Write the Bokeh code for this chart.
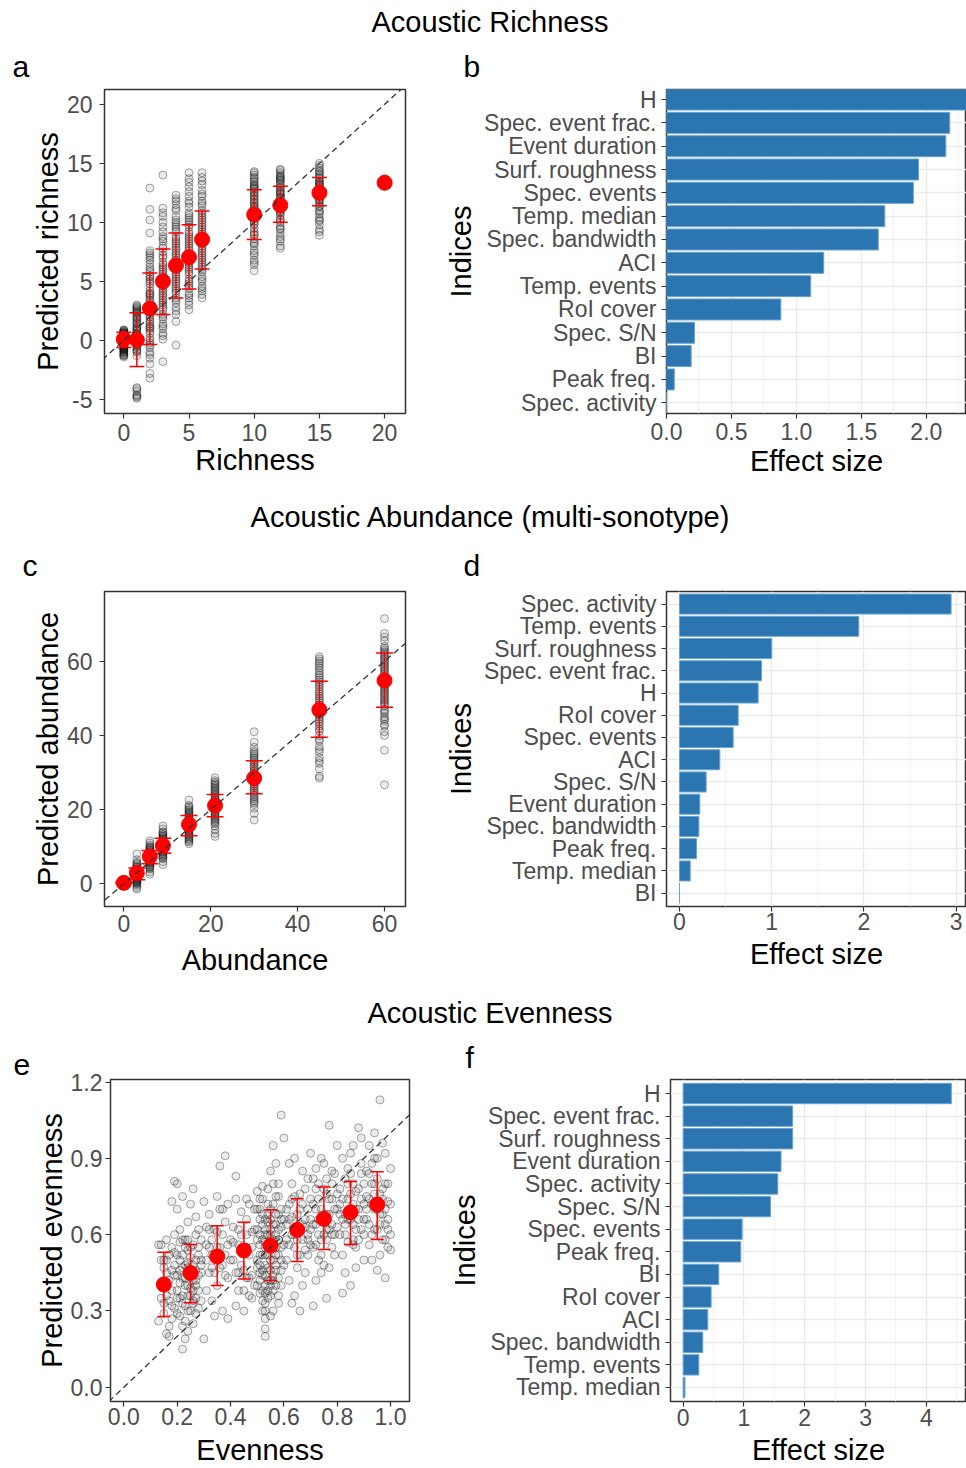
from bokeh.plotting import figure
from bokeh.models import Range1d, FixedTicker, PrintfTickFormatter, Slope, Div
from bokeh.layouts import column, row
from bokeh.embed import file_html
from bokeh.resources import INLINE

FONT = "Liberation Sans"
TICK_FS = "23px"
LAB_FS = "29px"

# ---------------- Panel a : richness ----------------
rich_levels = [0, 1, 2, 3, 4, 5, 6, 10, 12, 15, 20]
rich_points = [
    [0.9, 0.8, 0.7, 0.6, 0.5, 0.45, 0.3, 0.2, 0.1, 0.0, -0.1, -0.2, -0.3, -0.4, -0.5, -0.6, -0.7, -0.8, -0.9, -1.0, -1.1, -1.2, -1.3, -1.4, 0.75, 0.35, -0.15, -0.55, 0.65, 0.05,
     0.85, 0.55, 0.25, -0.05, -0.35, -0.65, -0.95, -1.25, 0.15, -0.45, 0.6, -0.75],
    [3.0, 2.9, 2.7, 2.5, 2.3, 2.0, 1.8, 1.5, 1.2, 1.0, 0.8, 0.5, 0.3, 0.1, -0.1, -0.3, -0.5, -0.8, -1.0, -1.3, -4.0, -4.1, -4.6, -4.8, -4.9, 2.2, 1.6, 0.6, -0.2,
     2.8, 2.4, 1.9, 1.4, 0.9, 0.4, 0.0, -0.4, -0.9, 1.1, 2.6, -0.6, -4.3, -4.7],
    [12.9, 11.1, 10.2, 9.1, 7.6, 7.4, 7.0, 6.5, 6.0, 5.5, 5.0, 4.5, 4.2, 3.8, 3.4, 3.0, 2.6, 2.2, 1.8, 1.4, 1.0, 0.6, 0.2, -0.2, -0.6, -1.0, -1.5, -2.0, -2.8, -3.2, 6.8, 5.2, 3.6, 2.4, 1.2,
     7.2, 6.2, 5.8, 4.8, 4.0, 3.2, 2.0, 1.6, 0.8, 0.0, -0.4, -1.2, 5.4, 3.9, 2.8, 1.1],
    [14.0, 11.2, 10.8, 10.0, 9.2, 8.4, 8.0, 7.5, 7.0, 6.6, 6.2, 5.8, 5.4, 5.0, 4.6, 4.2, 3.8, 3.4, 3.0, 2.6, 2.2, 1.8, 1.4, 1.0, 0.6, 0.1, -1.8, 7.8, 5.6, 4.4, 3.2,
     10.5, 9.6, 8.8, 7.2, 6.4, 5.2, 4.0, 3.6, 2.8, 2.0, 1.2, 0.4, 6.0, 4.8, 8.6],
    [12.3, 12.0, 11.5, 11.0, 10.5, 10.0, 9.6, 9.2, 8.8, 8.4, 8.0, 7.6, 7.2, 6.8, 6.4, 6.0, 5.6, 5.2, 4.8, 4.4, 4.0, 3.6, 3.2, 2.8, 2.2, 1.6, -0.4, 9.8, 7.4, 5.4,
     11.8, 11.2, 10.2, 9.4, 8.6, 7.8, 7.0, 6.2, 5.8, 5.0, 4.2, 3.4, 2.5, 8.2, 6.6, 4.6],
    [14.2, 13.7, 13.0, 12.2, 11.8, 11.3, 10.8, 10.4, 10.0, 9.6, 9.2, 8.8, 8.4, 8.0, 7.6, 7.2, 6.8, 6.4, 6.0, 5.6, 5.2, 4.8, 4.4, 4.0, 3.6, 3.0, 2.6, 9.0, 7.0, 5.0,
     13.4, 12.6, 11.6, 10.6, 9.8, 8.6, 7.8, 6.6, 5.8, 4.6, 3.8, 3.3, 8.2, 6.2, 10.2],
    [14.2, 13.8, 13.2, 12.7, 12.2, 11.8, 11.4, 11.0, 10.6, 10.2, 9.8, 9.4, 9.0, 8.6, 8.2, 7.8, 7.4, 7.0, 6.6, 6.2, 5.8, 5.4, 5.0, 4.6, 4.2, 3.6, 10.4, 8.0, 6.4,
     13.5, 12.4, 11.6, 10.8, 10.0, 9.2, 8.4, 7.6, 6.8, 6.0, 5.2, 4.4, 3.9, 9.6, 7.2],
    [14.3, 14.0, 13.7, 13.4, 13.1, 12.8, 12.5, 12.2, 11.9, 11.6, 11.3, 11.0, 10.7, 10.4, 10.1, 9.8, 9.5, 9.2, 8.9, 8.6, 8.3, 8.0, 7.6, 7.2, 6.8, 6.4, 5.9, 13.2, 12.0, 10.9,
     14.2, 13.8, 13.5, 12.9, 12.6, 12.3, 11.7, 11.4, 10.5, 9.9, 9.0, 8.2, 7.4, 6.6, 13.0, 11.2],
    [14.5, 14.2, 13.9, 13.6, 13.3, 13.0, 12.7, 12.4, 12.1, 11.8, 11.5, 11.2, 10.9, 10.6, 10.3, 10.0, 9.7, 9.4, 9.1, 8.8, 8.4, 8.0, 7.8, 13.5, 12.6, 11.0,
     14.4, 14.0, 13.7, 13.2, 12.9, 12.5, 12.2, 11.7, 11.3, 10.8, 10.2, 9.5, 8.6, 13.8, 12.0],
    [15.0, 14.6, 14.3, 14.0, 13.7, 13.4, 13.1, 12.8, 12.5, 12.2, 11.9, 11.6, 11.3, 11.0, 10.7, 10.4, 10.1, 9.8, 9.4, 8.9, 13.2, 12.0,
     14.8, 14.4, 14.1, 13.8, 13.5, 13.0, 12.6, 12.3, 11.8, 11.4, 10.9, 10.2, 9.2, 13.3, 12.4],
    [13.7, 13.6, 13.5, 13.4, 13.3, 13.2, 13.1, 13.5, 13.4, 13.3, 13.45, 13.35, 13.25, 13.55],
]
rich_mean = [0.1, 0.05, 2.7, 5.0, 6.35, 7.05, 8.55, 10.65, 11.45, 12.5, 13.35]
rich_lo = [-0.6, -2.2, -0.35, 2.2, 3.6, 4.35, 6.05, 8.55, 10.0, 11.4, 13.2]
rich_hi = [0.7, 2.35, 5.7, 7.75, 9.1, 9.8, 10.95, 12.75, 13.05, 13.8, 13.5]
rich_xticks = [0, 5, 10, 15, 20]
rich_yticks = [-5, 0, 5, 10, 15, 20]

# ---------------- Panel c : abundance ----------------
abund_levels = [0, 3, 6, 9, 15, 21, 30, 45, 60]
abund_points = [
    [0.0, 0.2, 0.4, 0.6, 0.3, 0.1, 0.5],
    [8.1, 6.5, 5.8, 5.2, 4.7, 4.2, 3.8, 3.4, 3.0, 2.6, 2.2, 1.8, 1.4, 1.0, 0.6, 0.2, -0.4, -1.0, -1.4,
     5.5, 4.5, 3.6, 3.2, 2.8, 2.4, 2.0, 1.6, 1.2, 0.8, 0.4, 0.0],
    [11.6, 11.0, 10.4, 9.8, 9.2, 8.7, 8.2, 7.7, 7.2, 6.7, 6.2, 5.7, 5.2, 4.6, 4.0, 3.2, 2.6,
     10.0, 9.5, 9.0, 8.4, 8.0, 7.5, 7.0, 6.5, 6.0, 5.5, 4.8, 4.3],
    [15.6, 14.8, 14.0, 13.4, 12.8, 12.2, 11.6, 11.0, 10.4, 9.8, 9.2, 8.6, 8.0, 7.4, 6.8, 6.0, 5.2,
     13.8, 13.1, 12.5, 11.9, 11.3, 10.7, 10.1, 9.5, 8.9, 8.3, 7.7, 7.1],
    [22.6, 21.2, 20.4, 19.7, 19.0, 18.3, 17.6, 16.9, 16.2, 15.5, 14.8, 14.1, 13.4, 12.7, 12.0, 11.3, 10.8,
     20.8, 20.0, 19.3, 18.6, 17.9, 17.2, 16.5, 15.8, 15.1, 14.4, 13.7, 13.0, 12.3, 11.6],
    [28.6, 27.8, 27.0, 26.2, 25.4, 24.6, 23.8, 23.0, 22.2, 21.4, 20.6, 19.8, 19.0, 18.2, 17.4, 16.6, 15.6, 14.6, 13.6, 12.8,
     27.4, 26.6, 25.8, 25.0, 24.2, 23.4, 22.6, 21.8, 21.0, 20.2, 19.4, 18.6, 17.8, 17.0, 16.2],
    [41.0, 38.2, 36.8, 35.4, 34.4, 33.4, 32.4, 31.4, 30.4, 29.4, 28.4, 27.4, 26.4, 25.4, 24.4, 23.4, 22.4, 21.4, 20.4, 19.0, 17.2,
     35.9, 34.9, 33.9, 32.9, 31.9, 30.9, 29.9, 28.9, 27.9, 26.9, 25.9, 24.9, 23.9, 22.9, 21.9],
    [61.2, 60.0, 58.8, 57.5, 56.2, 55.0, 53.8, 52.5, 51.2, 50.0, 48.8, 47.5, 46.2, 45.0, 43.8, 42.5, 41.2, 40.0, 38.5, 37.0, 35.5, 34.0, 32.5, 31.0, 29.0, 28.5,
     60.6, 59.4, 58.2, 56.8, 55.6, 54.4, 53.2, 51.8, 50.6, 49.4, 48.2, 46.8, 45.6, 44.4, 43.2, 41.8, 39.0, 36.2, 33.2],
    [71.5, 67.5, 66.5, 65.5, 64.0, 63.0, 62.0, 61.0, 60.0, 59.0, 58.0, 57.0, 56.0, 55.0, 54.0, 53.0, 52.0, 51.0, 50.0, 49.0, 48.0, 47.0, 46.0, 45.0, 44.0, 43.0, 41.0, 40.0, 36.0, 26.7,
     63.5, 62.5, 61.5, 60.5, 59.5, 58.5, 57.5, 56.5, 55.5, 54.5, 53.5, 52.5, 51.5, 50.5, 49.5, 48.5, 46.5, 44.5, 42.5],
]
abund_mean = [0.27, 2.96, 7.36, 10.3, 16.0, 21.1, 28.5, 46.9, 54.8]
abund_lo = [0.1, 1.1, 5.4, 8.25, 13.0, 18.1, 24.3, 39.5, 47.6]
abund_hi = [0.45, 4.3, 9.0, 12.3, 18.4, 24.1, 33.2, 54.6, 62.2]
abund_ticks = [0, 20, 40, 60]

# ---------------- Panel e : evenness ----------------
even_x = [
    0.14, 0.15, 0.13, 0.16, 0.17, 0.14, 0.18, 0.15, 0.16, 0.17, 0.19, 0.18, 0.14, 0.19, 0.16, 0.17, 0.15, 0.18, 0.19, 0.20, 0.19, 0.20, 0.18, 0.13, 0.16, 0.17, 0.20, 0.14,
    0.21, 0.22, 0.23, 0.22, 0.24, 0.25, 0.26, 0.21, 0.23, 0.27, 0.28, 0.24, 0.25, 0.26, 0.22, 0.23, 0.24, 0.29, 0.30, 0.28, 0.27, 0.21, 0.26, 0.25, 0.29, 0.28, 0.30, 0.24, 0.22, 0.27, 0.23, 0.26,
    0.31, 0.32, 0.33, 0.34, 0.35, 0.36, 0.37, 0.38, 0.39, 0.31, 0.32, 0.33, 0.34, 0.35, 0.36, 0.38, 0.37, 0.39, 0.40, 0.35, 0.33, 0.36, 0.38, 0.34, 0.32, 0.39,
    0.41, 0.42, 0.43, 0.44, 0.45, 0.46, 0.47, 0.48, 0.49, 0.41, 0.42, 0.43, 0.44, 0.45, 0.46, 0.47, 0.48, 0.49, 0.50, 0.44, 0.46, 0.48, 0.50, 0.42, 0.47,
    0.51, 0.51, 0.52, 0.52, 0.52, 0.53, 0.53, 0.53, 0.53, 0.53, 0.53, 0.54, 0.54, 0.54, 0.55, 0.55, 0.55, 0.55, 0.56, 0.56, 0.56, 0.57, 0.57, 0.57, 0.58, 0.58, 0.58, 0.59, 0.59, 0.59, 0.60, 0.60, 0.51, 0.52, 0.54, 0.56, 0.57, 0.58, 0.55, 0.53, 0.59, 0.51,
    0.61, 0.61, 0.62, 0.62, 0.63, 0.63, 0.64, 0.64, 0.65, 0.65, 0.66, 0.66, 0.67, 0.67, 0.68, 0.68, 0.69, 0.69, 0.70, 0.70, 0.62, 0.64, 0.66, 0.68, 0.63, 0.61, 0.67, 0.69,
    0.71, 0.71, 0.72, 0.72, 0.73, 0.73, 0.74, 0.74, 0.75, 0.75, 0.76, 0.76, 0.77, 0.77, 0.78, 0.78, 0.79, 0.79, 0.80, 0.80, 0.71, 0.72, 0.74, 0.76, 0.78, 0.73, 0.75, 0.77,
    0.81, 0.81, 0.82, 0.82, 0.83, 0.83, 0.84, 0.84, 0.85, 0.85, 0.86, 0.86, 0.87, 0.87, 0.88, 0.88, 0.89, 0.89, 0.90, 0.90, 0.82, 0.84, 0.86, 0.88, 0.85, 0.83, 0.87, 0.89,
    0.91, 0.91, 0.92, 0.92, 0.93, 0.93, 0.94, 0.94, 0.95, 0.95, 0.96, 0.96, 0.97, 0.97, 0.98, 0.98, 0.99, 0.99, 1.00, 1.00, 0.92, 0.94, 0.96, 0.98, 0.95, 0.97, 0.93, 0.99,
    0.15, 0.16, 0.17, 0.18, 0.19, 0.20, 0.21, 0.21, 0.22, 0.22, 0.23, 0.23, 0.24, 0.24, 0.25, 0.25, 0.26, 0.26, 0.27, 0.27, 0.28, 0.29, 0.29, 0.20, 0.18, 0.16, 0.24, 0.26, 0.22, 0.27,
    0.31, 0.32, 0.33, 0.34, 0.35, 0.36, 0.37, 0.38, 0.39, 0.40, 0.41, 0.42, 0.43, 0.44, 0.45, 0.46, 0.47, 0.48, 0.49, 0.50, 0.37, 0.43, 0.46, 0.31,
    0.50, 0.50, 0.51, 0.51, 0.51, 0.52, 0.52, 0.52, 0.53, 0.53, 0.53, 0.53, 0.54, 0.54, 0.54, 0.55, 0.55, 0.55, 0.56, 0.56, 0.56, 0.57, 0.57, 0.57, 0.58, 0.58, 0.58, 0.59, 0.59, 0.60, 0.60, 0.52, 0.54, 0.56, 0.53, 0.55,
    0.61, 0.62, 0.63, 0.64, 0.65, 0.66, 0.67, 0.68, 0.69, 0.70, 0.71, 0.72, 0.73, 0.74, 0.75, 0.76, 0.77, 0.78, 0.79, 0.80,
    0.81, 0.82, 0.83, 0.84, 0.85, 0.86, 0.87, 0.88, 0.89, 0.90, 0.91, 0.92, 0.93, 0.94, 0.95, 0.96, 0.97, 0.98, 0.99, 1.00,
    0.19, 0.20, 0.21, 0.22, 0.23, 0.24, 0.25, 0.26, 0.27, 0.28, 0.21, 0.23, 0.25, 0.27, 0.29, 0.20, 0.22, 0.24, 0.26, 0.28,
    0.50, 0.51, 0.52, 0.53, 0.54, 0.55, 0.56, 0.57, 0.58, 0.59, 0.50, 0.51, 0.52, 0.53, 0.54, 0.55, 0.56, 0.57, 0.58, 0.59, 0.51, 0.53, 0.55, 0.57, 0.52, 0.54, 0.56, 0.58,
    0.62, 0.64, 0.66, 0.68, 0.70, 0.72, 0.74, 0.76, 0.78, 0.80, 0.63, 0.65, 0.67, 0.69, 0.71, 0.73, 0.75, 0.77, 0.79, 0.70, 0.72, 0.74, 0.76, 0.78,
    0.81, 0.83, 0.85, 0.87, 0.89, 0.91, 0.93, 0.95, 0.97, 0.99, 0.82, 0.84, 0.86, 0.88, 0.90, 0.92, 0.94, 0.96, 0.98, 1.00, 0.86, 0.90, 0.94, 0.98,
]
even_y = [
    0.56, 0.33, 0.26, 0.45, 0.52, 0.41, 0.38, 0.29, 0.21, 0.20, 0.48, 0.55, 0.50, 0.31, 0.36, 0.42, 0.47, 0.27, 0.60, 0.80, 0.81, 0.70, 0.73, 0.56, 0.58, 0.24, 0.44, 0.35,
    0.62, 0.15, 0.40, 0.52, 0.36, 0.30, 0.48, 0.28, 0.58, 0.42, 0.55, 0.65, 0.72, 0.78, 0.75, 0.19, 0.22, 0.34, 0.19, 0.62, 0.29, 0.46, 0.38, 0.55, 0.50, 0.44, 0.73, 0.47, 0.33, 0.60, 0.26, 0.34,
    0.50, 0.45, 0.58, 0.62, 0.40, 0.55, 0.48, 0.65, 0.43, 0.38, 0.68, 0.34, 0.52, 0.75, 0.87, 0.91, 0.30, 0.27, 0.58, 0.61, 0.47, 0.70, 0.52, 0.28, 0.55, 0.72,
    0.50, 0.83, 0.45, 0.60, 0.38, 0.66, 0.52, 0.44, 0.70, 0.63, 0.32, 0.56, 0.48, 0.30, 0.55, 0.72, 0.61, 0.40, 0.77, 0.69, 0.43, 0.35, 0.58, 0.74, 0.36,
    0.45, 0.60, 0.38, 0.52, 0.30, 0.20, 0.23, 0.27, 0.33, 0.48, 0.66, 0.55, 0.42, 0.72, 0.50, 0.36, 0.62, 0.85, 0.95, 0.44, 0.58, 0.68, 0.40, 0.88, 0.52, 0.75, 0.33, 1.07, 0.63, 0.46, 0.98, 0.56, 0.70, 0.79, 0.35, 0.30, 0.55, 0.80, 0.42, 0.57, 0.70, 0.52,
    0.64, 0.50, 0.72, 0.42, 0.60, 0.80, 0.55, 0.36, 0.68, 0.47, 0.76, 0.30, 0.58, 0.85, 0.63, 0.45, 0.70, 0.52, 0.92, 0.62, 0.88, 0.90, 0.52, 0.78, 0.33, 0.58, 0.40, 0.82,
    0.55, 0.72, 0.42, 0.64, 0.50, 0.80, 0.58, 0.90, 0.68, 0.48, 0.76, 0.35, 0.62, 1.03, 0.55, 0.85, 0.70, 0.52, 0.95, 0.63, 0.32, 0.86, 0.45, 0.58, 0.74, 0.66, 0.88, 0.47,
    0.60, 0.78, 0.52, 0.90, 0.68, 0.45, 0.74, 0.57, 0.84, 0.40, 0.64, 0.95, 0.55, 0.77, 0.70, 1.02, 0.62, 0.88, 0.50, 0.80, 0.37, 0.66, 0.72, 0.58, 0.92, 0.82, 0.47, 0.98,
    0.66, 0.85, 0.56, 0.95, 0.72, 0.50, 0.80, 0.62, 0.90, 0.46, 0.68, 1.13, 0.58, 0.78, 0.64, 0.92, 0.55, 0.73, 0.60, 0.86, 0.74, 1.00, 0.52, 0.43, 0.70, 0.96, 0.88, 0.62,
    0.50, 0.40, 0.34, 0.46, 0.53, 0.38, 0.50, 0.35, 0.43, 0.58, 0.48, 0.32, 0.54, 0.40, 0.45, 0.36, 0.56, 0.42, 0.50, 0.35, 0.38, 0.45, 0.58, 0.29, 0.32, 0.50, 0.30, 0.25, 0.24, 0.67,
    0.56, 0.62, 0.52, 0.45, 0.55, 0.47, 0.60, 0.44, 0.56, 0.50, 0.57, 0.45, 0.62, 0.53, 0.46, 0.60, 0.43, 0.55, 0.62, 0.47, 0.70, 0.38, 0.74, 0.63,
    0.40, 0.62, 0.37, 0.56, 0.66, 0.44, 0.58, 0.68, 0.40, 0.52, 0.62, 0.37, 0.47, 0.60, 0.65, 0.40, 0.55, 0.70, 0.50, 0.64, 0.38, 0.46, 0.60, 0.75, 0.43, 0.62, 0.68, 0.55, 0.40, 0.66, 0.48, 0.74, 0.78, 0.80, 0.30, 0.28,
    0.70, 0.56, 0.67, 0.75, 0.58, 0.62, 0.72, 0.54, 0.60, 0.74, 0.64, 0.56, 0.74, 0.66, 0.60, 0.68, 0.74, 0.64, 0.60, 0.76,
    0.68, 0.74, 0.60, 0.80, 0.66, 0.58, 0.70, 0.78, 0.74, 0.66, 0.75, 0.64, 0.80, 0.70, 0.62, 0.76, 0.68, 0.80, 0.66, 0.72,
    0.44, 0.52, 0.41, 0.36, 0.55, 0.49, 0.39, 0.33, 0.46, 0.52, 0.57, 0.43, 0.51, 0.40, 0.48, 0.35, 0.47, 0.58, 0.45, 0.31,
    0.50, 0.42, 0.64, 0.55, 0.38, 0.60, 0.72, 0.48, 0.58, 0.66, 0.70, 0.48, 0.46, 0.44, 0.52, 0.46, 0.55, 0.64, 0.36, 0.50, 0.74, 0.60, 0.66, 0.52, 0.34, 0.68, 0.42, 0.58,
    0.66, 0.60, 0.70, 0.66, 0.56, 0.78, 0.70, 0.62, 0.80, 0.70, 0.74, 0.52, 0.64, 0.58, 0.82, 0.60, 0.78, 0.68, 0.84, 0.66, 0.70, 0.52, 0.82, 0.60,
    0.72, 0.64, 0.76, 0.62, 0.84, 0.70, 0.60, 0.82, 0.74, 0.80, 0.66, 0.86, 0.80, 0.66, 0.72, 0.84, 0.76, 0.64, 0.70, 0.54, 0.56, 0.60, 0.90, 0.58,
]
even_bins = [0.15, 0.25, 0.35, 0.45, 0.55, 0.65, 0.75, 0.85, 0.95]
even_mean = [0.404, 0.449, 0.514, 0.538, 0.557, 0.619, 0.662, 0.688, 0.718]
even_lo = [0.278, 0.332, 0.400, 0.426, 0.420, 0.494, 0.542, 0.561, 0.581]
even_hi = [0.531, 0.561, 0.635, 0.649, 0.698, 0.741, 0.787, 0.809, 0.847]
even_xticks = [0.0, 0.2, 0.4, 0.6, 0.8, 1.0]
even_yticks = [0.0, 0.3, 0.6, 0.9, 1.2]

# ---------------- Effect sizes ----------------
rich_idx = ["H", "Spec. event frac.", "Event duration", "Surf. roughness", "Spec. events", "Temp. median",
            "Spec. bandwidth", "ACI", "Temp. events", "RoI cover", "Spec. S/N", "BI", "Peak freq.", "Spec. activity"]
rich_effect = [2.40, 2.18, 2.15, 1.94, 1.90, 1.68, 1.63, 1.21, 1.11, 0.88, 0.216, 0.19, 0.06, 0.0]

abund_idx = ["Spec. activity", "Temp. events", "Surf. roughness", "Spec. event frac.", "H", "RoI cover", "Spec. events",
             "ACI", "Spec. S/N", "Event duration", "Spec. bandwidth", "Peak freq.", "Temp. median", "BI"]
abund_effect = [2.945, 1.944, 1.0, 0.889, 0.853, 0.636, 0.582, 0.437, 0.289, 0.22, 0.21, 0.184, 0.116, 0.0]

even_idx = ["H", "Spec. event frac.", "Surf. roughness", "Event duration", "Spec. activity", "Spec. S/N", "Spec. events",
            "Peak freq.", "BI", "RoI cover", "ACI", "Spec. bandwidth", "Temp. events", "Temp. median"]
even_effect = [4.41, 1.80, 1.80, 1.61, 1.556, 1.436, 0.97, 0.948, 0.586, 0.46, 0.405, 0.323, 0.258, 0.03]

rich_eticks = [0.0, 0.5, 1.0, 1.5, 2.0]
rich_eminor = [0.25, 0.75, 1.25, 1.75, 2.25]
abund_eticks = [0, 1, 2, 3]
abund_eminor = [0.5, 1.5, 2.5]
even_eticks = [0, 1, 2, 3, 4]
even_eminor = [0.5, 1.5, 2.5, 3.5, 4.5]


def style(p, letter, letter_off, letter_standoff):
    p.title.text = letter
    p.title.align = "left"
    p.title.offset = letter_off
    p.title.standoff = letter_standoff
    p.title.text_font = FONT
    p.title.text_font_size = "30px"
    p.title.text_font_style = "normal"
    p.title.text_color = "black"
    p.outline_line_color = "#333333"
    p.outline_line_width = 1.5
    for ax in (p.xaxis[0], p.yaxis[0]):
        ax.axis_line_color = None
        ax.major_tick_line_color = "#333333"
        ax.major_tick_line_width = 1.2
        ax.major_tick_out = 5
        ax.major_tick_in = 0
        ax.minor_tick_line_color = None
        ax.major_label_text_font = FONT
        ax.major_label_text_font_size = TICK_FS
        ax.major_label_text_color = "#4D4D4D"
        ax.axis_label_text_font = FONT
        ax.axis_label_text_font_size = LAB_FS
        ax.axis_label_text_font_style = "normal"
        ax.axis_label_text_color = "black"


def scatter_panel(W, H, border, xr, yr, xticks, yticks, fmt, xlabel, ylabel,
                  px, py, mx, my, lo, hi, cap, letter, letter_off, letter_so,
                  xtick_so, xlab_so, ytick_so, ylab_so):
    bl, br, bt, bb = border
    p = figure(width=W, height=H, x_range=Range1d(*xr), y_range=Range1d(*yr),
               output_backend="svg", toolbar_location=None,
               min_border_left=bl, min_border_right=br, min_border_top=bt, min_border_bottom=bb)
    p.grid.visible = False
    p.scatter(px, py, size=8, marker="circle", line_color="black", line_alpha=0.34,
              fill_color="black", fill_alpha=0.08, line_width=1)
    p.add_layout(Slope(gradient=1, y_intercept=0, line_color="#333333", line_width=1.3,
                       line_dash="6 4", level="glyph"))
    p.segment(x0=mx, y0=lo, x1=mx, y1=hi, line_color="red", line_width=1.5)
    p.scatter(mx, lo, marker="dash", size=cap, line_color="red", line_width=1.5)
    p.scatter(mx, hi, marker="dash", size=cap, line_color="red", line_width=1.5)
    p.scatter(mx, my, marker="circle", size=15, fill_color="red", line_color="red")
    p.xaxis.ticker = FixedTicker(ticks=xticks)
    p.yaxis.ticker = FixedTicker(ticks=yticks)
    if fmt:
        p.xaxis.formatter = PrintfTickFormatter(format=fmt)
        p.yaxis.formatter = PrintfTickFormatter(format=fmt)
    p.xaxis.axis_label = xlabel
    p.yaxis.axis_label = ylabel
    style(p, letter, letter_off, letter_so)
    p.xaxis.major_label_standoff = xtick_so
    p.xaxis.axis_label_standoff = xlab_so
    p.yaxis.major_label_standoff = ytick_so
    p.yaxis.axis_label_standoff = ylab_so
    return p


def bar_panel(W, H, border, xr, yr, xticks, xminor, fmt, names, vals,
              letter, letter_off, letter_so, xtick_so, xlab_so):
    bl, br, bt, bb = border
    n = len(names)
    pos = [n - 1 - i for i in range(n)]
    p = figure(width=W, height=H, x_range=Range1d(*xr), y_range=Range1d(*yr),
               output_backend="svg", toolbar_location=None,
               min_border_left=bl, min_border_right=br, min_border_top=bt, min_border_bottom=bb)
    p.hbar(y=pos, left=0, right=vals, height=0.9, fill_color="#2B75B1",
           line_color="#6AA3D4", line_width=1)
    p.yaxis.ticker = FixedTicker(ticks=pos)
    p.yaxis.major_label_overrides = {pp: nm for pp, nm in zip(pos, names)}
    p.ygrid.ticker = FixedTicker(ticks=pos)
    p.xaxis.ticker = FixedTicker(ticks=xticks, minor_ticks=xminor)
    p.xgrid.ticker = FixedTicker(ticks=xticks, minor_ticks=xminor)
    if fmt:
        p.xaxis.formatter = PrintfTickFormatter(format=fmt)
    p.grid.grid_line_color = "#EBEBEB"
    p.grid.grid_line_width = 1.5
    p.xgrid.minor_grid_line_color = "#F3F3F3"
    p.xgrid.minor_grid_line_width = 1
    p.xaxis.axis_label = "Effect size"
    p.yaxis.axis_label = "Indices"
    style(p, letter, letter_off, letter_so)
    p.xaxis.major_label_standoff = xtick_so
    p.xaxis.axis_label_standoff = xlab_so
    p.yaxis.major_label_standoff = 5
    p.yaxis.axis_label_standoff = 4
    return p


def flat(levels, pts):
    xs, ys = [], []
    for lv, vals in zip(levels, pts):
        for v in vals:
            xs.append(lv)
            ys.append(v)
    return xs, ys


rx, ry = flat(rich_levels, rich_points)
ax_, ay_ = flat(abund_levels, abund_points)

pa = scatter_panel(440, 455, (104, 35, 49, 82), (-1.48, 21.6), (-6.19, 21.25), rich_xticks, rich_yticks, None,
                   "Richness", "Predicted richness", rx, ry, rich_levels, rich_mean, rich_lo, rich_hi, 15,
                   "a", -92, 14, 5, 0, 7, 0)
pa.yaxis.major_label_overrides = {-5: "-5"}
pb = bar_panel(526, 455, (226, 0, 49, 82), (0, 2.309), (-0.46, 13.43), rich_eticks, rich_eminor, "%.1f",
               rich_idx, rich_effect, "b", -203, 14, 4, 2)

pc = scatter_panel(440, 453, (104, 35, 54, 84), (-4.44, 64.83), (-6.1, 78.8), abund_ticks, abund_ticks, None,
                   "Abundance", "Predicted abundance", ax_, ay_, abund_levels, abund_mean, abund_lo, abund_hi, 17,
                   "c", -82, 19, 3, 9, 7, 0)
pd_ = bar_panel(526, 453, (226, 0, 54, 84), (-0.141, 3.112), (-0.6, 13.565), abund_eticks, abund_eminor, None,
                abund_idx, abund_effect, "d", -203, 19, 1, 5)

pe = scatter_panel(440, 435, (110, 31, 46, 67), (-0.05, 1.071), (-0.056, 1.21), even_xticks, even_yticks, "%.1f",
                   "Evenness", "Predicted evenness", even_x, even_y, even_bins, even_mean, even_lo, even_hi, 13,
                   "e", -97, 9, 1, 6, 3, 0)
pf = bar_panel(526, 435, (230, 0, 46, 67), (-0.208, 4.66), (-0.62, 13.62), even_eticks, even_eminor, None,
               even_idx, even_effect, "f", -205, 11, 2, 5)


def section(text, h, lh):
    return Div(text=('<div style="width:966px;text-align:center;font-family:\'Liberation Sans\';'
                     'font-size:29px;line-height:%dpx;height:%dpx;position:relative;left:7px;color:#000;'
                     'white-space:nowrap;">%s</div>') % (lh, h, text),
               width=966, height=h, margin=(0, 0, 0, 0))


layout = column(
    section("Acoustic Richness", 40, 45),
    row(pa, pb),
    section("Acoustic Abundance (multi-sonotype)", 42, 45),
    row(pc, pd_),
    section("Acoustic Evenness", 43, 46),
    row(pe, pf),
)

open("out.html", "w").write(file_html(layout, INLINE))
